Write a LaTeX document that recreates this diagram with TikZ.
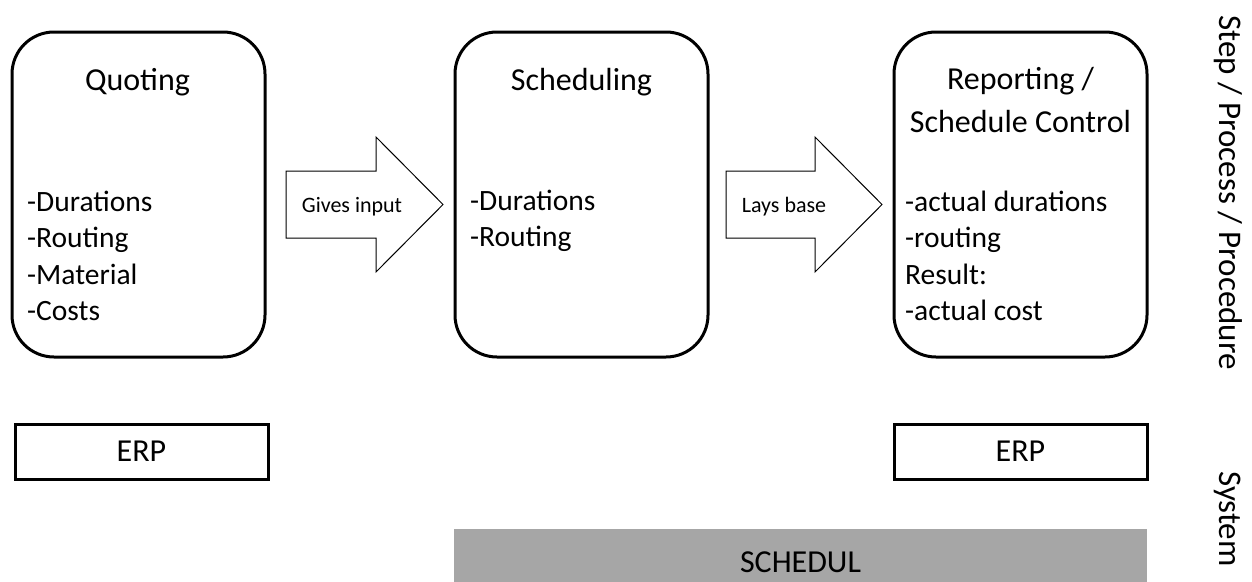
\documentclass[tikz,border=0pt]{standalone}
\usepackage{fontspec}
\setmainfont{Carlito}
\begin{document}
\begin{tikzpicture}[x=1pt,y=-1pt,
  procbox/.style={draw=black, line width=3pt, rounded corners=42pt, minimum width=253pt, minimum height=325pt, inner sep=0pt},
  sysbox/.style={draw=black, line width=3pt, minimum width=253pt, minimum height=55pt, inner sep=0pt, font=\fontsize{32}{38}\selectfont},
  graybar/.style={fill=barGray, draw=none, minimum width=693pt, minimum height=60pt, inner sep=0pt},
  titletxt/.style={font=\fontsize{32}{43}\selectfont, align=center, inner sep=0pt},
  bodytxt/.style={font=\fontsize{29.5}{36.5}\selectfont, align=left, inner sep=0pt, anchor=west},
  arrowtxt/.style={font=\fontsize{22}{26}\selectfont, inner sep=0pt},
  sidetxt/.style={font=\fontsize{33}{38}\selectfont, rotate=-90, inner sep=0pt},
  blockarrow/.style={draw=black, line width=1pt, fill=white}
]
\definecolor{barGray}{HTML}{A6A6A6}
\useasboundingbox (0,0) rectangle (1252,581);

% process boxes
\node[procbox] (quote) at (138.5,194.5) {};
\node[procbox] (sched) at (581.5,194.5) {};
\node[procbox] (report) at (1020.5,194.5) {};

\node[titletxt] (quoteT) at (137.5,82) {Quoting};
\node[titletxt] (schedT) at (581.5,82) {Scheduling};
\node[titletxt] (reportT) at (1020.5,100) {Reporting /\\Schedule Control};

\node[bodytxt] (quoteB) at (27,256) {-Durations\\-Routing\\-Material\\-Costs};
\node[bodytxt] (schedB) at (470,221) {-Durations\\-Routing};
\node[bodytxt] (reportB) at (905,256) {-actual durations\\-routing\\Result:\\-actual cost};

% block arrows
\coordinate (a1) at (286,204.5);
\draw[blockarrow] (a1) ++(0,-33.5) -- ++(90,0) -- ++(0,-34) -- ++(67,67.5) -- ++(-67,67.5) -- ++(0,-34) -- ++(-90,0) -- cycle;
\node[arrowtxt] (giv) at (352,207) {Gives input};

\coordinate (a2) at (726,204.5);
\draw[blockarrow] (a2) ++(0,-33.5) -- ++(89,0) -- ++(0,-34) -- ++(67,67.5) -- ++(-67,67.5) -- ++(0,-34) -- ++(-89,0) -- cycle;
\node[arrowtxt] (lay) at (784,207) {Lays base};

% systems
\node[sysbox] (erp1) at (141.5,451.5) {ERP};
\node[sysbox] (erp2) at (1020.5,451.5) {ERP};
\node[graybar] (schedul) at (800.5,559) {};
\node[font=\fontsize{32}{38}\selectfont, inner sep=0pt] (schedulT) at (800.5,562) {SCHEDUL};

% side labels
\node[sidetxt] (sideStep) at (1228,192.5) {Step / Process / Procedure};
\node[sidetxt] (sideSys) at (1228,519) {System};
\end{tikzpicture}
\end{document}
